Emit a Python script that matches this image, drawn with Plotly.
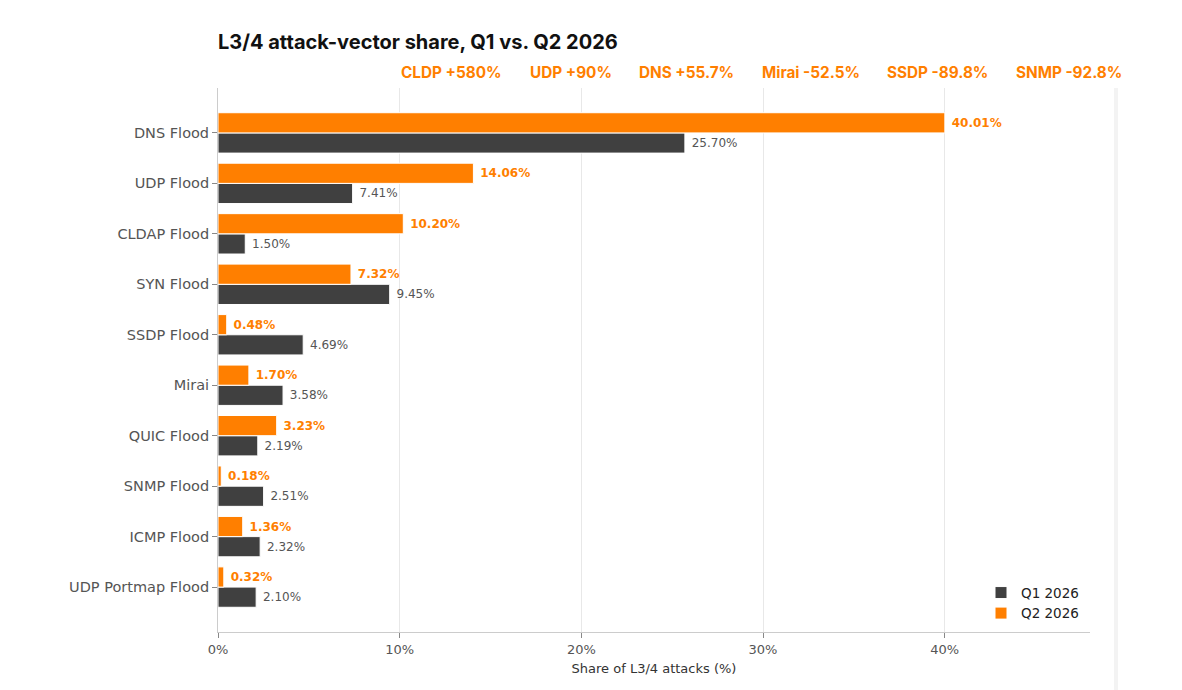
"""
L3/4 attack-vector share, Q1 vs Q2 2026 - horizontal grouped bars
"""
import plotly.graph_objects as go

#########################################
################ DATA ###################
#########################################
# top to bottom as in the picture
VECTORS = ['DNS Flood', 'UDP Flood', 'CLDAP Flood', 'SYN Flood', 'SSDP Flood',
           'Mirai', 'QUIC Flood', 'SNMP Flood', 'ICMP Flood', 'UDP Portmap Flood']
Q1_SHARE = [25.70, 7.41, 1.50, 9.45, 4.69, 3.58, 2.19, 2.51, 2.32, 2.10]
Q2_SHARE = [40.01, 14.06, 10.20, 7.32, 0.48, 1.70, 3.23, 0.18, 1.36, 0.32]
CHANGES = ['CLDP +580%', 'UDP +90%', 'DNS +55.7%', 'Mirai -52.5%', 'SSDP -89.8%', 'SNMP -92.8%']
X_TICKS = [0, 10, 20, 30, 40]

#########################################
################ STYLE ##################
#########################################
ORANGE = '#FF7F00'
DARK = '#404040'
GREY_TXT = '#555555'
AX_FONT = 'DejaVu Sans'
TITLE_FONT = 'Inter'
# page body has an 8px margin, so the figure is drawn 8px smaller
W, H = 1174, 682
# left edge (px, page coords) of each change label, plot area spans 218 -> 1090
CHANGE_X = [399, 528, 637, 760, 885, 1014]

fig = go.Figure()
# reversed order so the first vector sits on top
fig.add_trace(go.Bar(
    y=VECTORS[::-1], x=Q1_SHARE[::-1], orientation='h', name='Q1 2026',
    marker=dict(color=DARK, line=dict(color='white', width=1)),
    text=[f' {v:.2f}%' for v in Q1_SHARE[::-1]], textposition='outside',
    textfont=dict(family=AX_FONT, size=12, color=GREY_TXT), cliponaxis=False))
fig.add_trace(go.Bar(
    y=VECTORS[::-1], x=Q2_SHARE[::-1], orientation='h', name='Q2 2026',
    marker=dict(color=ORANGE, line=dict(color='white', width=1)),
    text=[f' <b>{v:.2f}%</b>' for v in Q2_SHARE[::-1]], textposition='outside',
    textfont=dict(family=AX_FONT, size=12, color=ORANGE), cliponaxis=False))

fig.update_layout(
    width=W, height=H, barmode='group', bargap=0.2, bargroupgap=0,
    plot_bgcolor='white', paper_bgcolor='white',
    margin=dict(l=210, r=92, t=80, b=58),
    title=dict(text='<b>L3/4 attack-vector share, Q1 vs. Q2 2026</b>',
               x=210 / W, xanchor='left', y=1 - 34 / H, yanchor='middle',
               font=dict(family=TITLE_FONT, size=20, color='#111111')),
    legend=dict(x=0.875, y=0.005, xanchor='left', yanchor='bottom',
                font=dict(family=AX_FONT, size=13.5, color='#222222'),
                bgcolor='rgba(255,255,255,0)', traceorder='normal'),
    font=dict(family=AX_FONT, color=GREY_TXT),
)
fig.update_xaxes(range=[0, 48], tickvals=X_TICKS, ticktext=[f'{t}%' for t in X_TICKS],
                 showgrid=True, gridcolor='#e8e8e8', zeroline=False,
                 showline=True, linecolor='#cccccc', ticks='outside', ticklen=5,
                 tickcolor='#888888', tickfont=dict(size=13, color=GREY_TXT),
                 title=dict(text='Share of L3/4 attacks (%)', standoff=8,
                            font=dict(size=13, color='#333333')))
fig.update_yaxes(range=[-0.89, 9.89], showgrid=False, showline=True,
                 linecolor='#cccccc', ticks='outside', ticklen=5, tickcolor='#888888',
                 tickfont=dict(size=14.5, color=GREY_TXT), zeroline=False)

# top row of change callouts
for label, px0 in zip(CHANGES, CHANGE_X):
    fig.add_annotation(text=f'<b>{label}</b>', x=(px0 - 218) / 872, xref='paper',
                       xanchor='left', y=1 + (88 - 72) / 544, yref='paper', yanchor='middle',
                       showarrow=False, font=dict(family=TITLE_FONT, size=15.3, color=ORANGE))

# faint band at the right edge of the original image
fig.add_shape(type='line', xref='paper', yref='paper', x0=(1116 - 218) / 872, x1=(1116 - 218) / 872,
              y0=-58 / 544, y1=1, line=dict(color='#f3f3f3', width=4))

fig.write_html('out.html')
